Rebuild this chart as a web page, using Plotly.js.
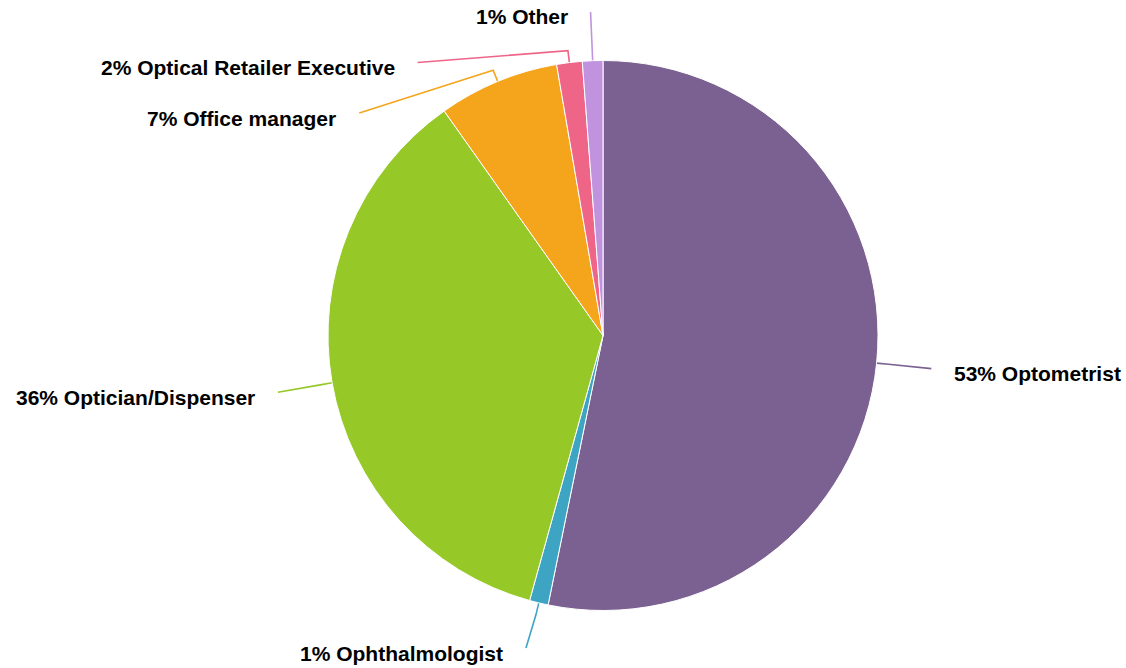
<!DOCTYPE html>
<html>
<head>
<meta charset="utf-8">
<script src="https://cdn.plot.ly/plotly-3.0.1.min.js"></script>
<style>html,body{margin:0;padding:0;background:#fff;}#chart{width:1126px;height:668px;}</style>
</head>
<body>
<div id="chart"></div>
<script>
// ---- data ----
const categories = ["Optometrist", "Ophthalmologist", "Optician/Dispenser", "Office manager", "Optical Retailer Executive", "Other"];
const shares = [53.2, 1.1, 35.9, 7.1, 1.5, 1.2];
const sliceColors = ["#7B6191", "#3EA4C4", "#96C828", "#F4A51C", "#EF6588", "#C192DD"];

// ---- layout config ----
const W = 1126, H = 668;
const CX = 603, CY = 335.5, R = 275;      // pie centre and radius (px)
const LABEL_R = 330;                      // radius where connectors end
const BEND = 12;                          // connector bend distance
const SPACING = 50.5;                     // min vertical spacing between labels
const TOP_Y = 12, BOTTOM_Y = 648;
const TEXT_GAP = 21;

const total = shares.reduce((a, b) => a + b, 0);
const texts = categories.map((c, i) => Math.round(shares[i] / total * 100) + "% " + c);

// mid-angles (clockwise from 12 o'clock)
let cum = 0;
const items = shares.map((v, i) => {
  const th = (cum + v / 2) / total * 2 * Math.PI;
  cum += v;
  const s = Math.sin(th), c = Math.cos(th);
  return {
    i, th, s, c,
    left: s < 0,
    nx: CX + LABEL_R * s, ny: CY - LABEL_R * c
  };
});

// distribute labels per side
["left", "right"].forEach(side => {
  const grp = items.filter(it => (side === "left") === it.left).sort((a, b) => a.ny - b.ny);
  let prev = -Infinity;
  grp.forEach(it => {
    let y = Math.max(it.ny, prev + SPACING, TOP_Y);
    it.y = y; prev = y;
  });
  // push back up if beyond bottom
  let next = Infinity;
  for (let k = grp.length - 1; k >= 0; k--) {
    const it = grp[k];
    it.y = Math.min(it.y, next - SPACING, BOTTOM_Y);
    next = it.y;
  }
  grp.forEach(it => {
    if (Math.abs(it.y - it.ny) > 10) {
      const dy = it.y - CY;
      const dx = Math.sqrt(Math.max(0, LABEL_R * LABEL_R - dy * dy));
      it.x = CX + (it.left ? -dx : dx);
    } else {
      it.x = it.nx;
    }
  });
});

const px = x => x / W;
const py = y => 1 - y / H;

const shapes = items.map(it => {
  const x0 = CX + R * it.s, y0 = CY - R * it.c;
  const x1 = CX + (R + BEND) * it.s, y1 = CY - (R + BEND) * it.c;
  return {
    type: "path", xref: "paper", yref: "paper",
    path: `M ${px(x0)},${py(y0)} L ${px(x1)},${py(y1)} L ${px(it.x)},${py(it.y)}`,
    line: { color: sliceColors[it.i], width: 1.6 },
    layer: "below"
  };
});

const annotations = items.map(it => ({
  xref: "paper", yref: "paper",
  x: px(it.x + (it.left ? -TEXT_GAP : TEXT_GAP)),
  y: py(it.y + 5),
  xanchor: it.left ? "right" : "left",
  yanchor: "middle",
  showarrow: false,
  text: "<b>" + texts[it.i] + "</b>",
  font: { family: "Liberation Sans, Arial, sans-serif", size: 21, color: "#000" }
}));

const trace = {
  type: "pie",
  labels: categories,
  values: shares,
  sort: false,
  direction: "clockwise",
  rotation: 0,
  textinfo: "none",
  hoverinfo: "none",
  marker: { colors: sliceColors, line: { color: "#ffffff", width: 1 } },
  domain: {
    x: [(CX - R) / W, (CX + R) / W],
    y: [1 - (CY + R) / H, 1 - (CY - R) / H]
  },
  showlegend: false
};

Plotly.newPlot("chart", [trace], {
  width: W, height: H,
  margin: { l: 0, r: 0, t: 0, b: 0 },
  paper_bgcolor: "#fff",
  showlegend: false,
  shapes, annotations
}, { displayModeBar: false, staticPlot: true });
</script>
</body>
</html>
